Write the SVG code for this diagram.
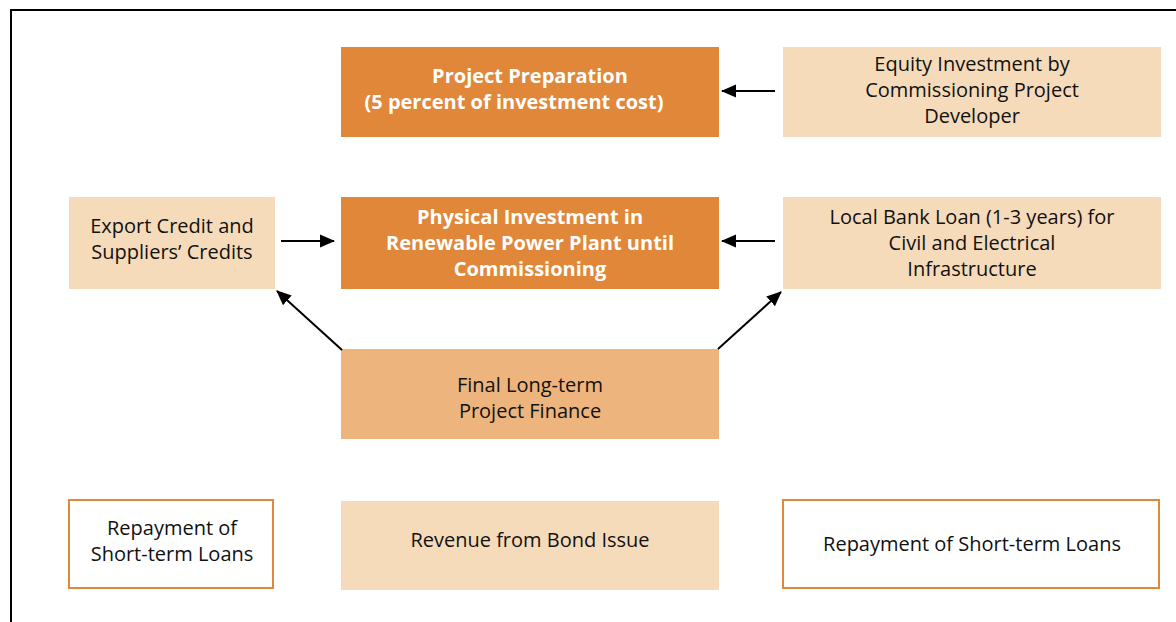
<svg xmlns="http://www.w3.org/2000/svg" width="1176" height="622" viewBox="0 0 1176 622">
<defs>
<style>
.t{font-family:"Open Sans","Liberation Sans",sans-serif;font-size:20px;fill:#111;text-anchor:middle}
.b{font-weight:bold;fill:#fff}
.dark{fill:#E0873A}
.light{fill:#F6DBBB}
.mid{fill:#EDB47E}
.out{fill:#fff;stroke:#E0873A;stroke-width:2}
.c{stroke:#000;stroke-width:2;fill:none;marker-end:url(#ah)}
</style>
<marker id="ah" markerWidth="15" markerHeight="14" refX="14" refY="7" orient="auto" markerUnits="userSpaceOnUse" viewBox="0 0 15 14">
<path d="M0,0.5 L15,7 L0,13.5 Z" fill="#000"/>
</marker>
</defs>
<rect width="1176" height="622" fill="#fff"/>
<rect x="11" y="10" width="1200" height="640" fill="none" stroke="#000" stroke-width="2"/>
<g id="prep"><rect class="dark" x="341" y="47" width="378" height="90"/>
<text class="t b" x="530" y="83">Project Preparation</text>
<text class="t b" x="514" y="109">(5 percent of investment cost)</text></g>
<g id="equity"><rect class="light" x="783" y="47" width="378" height="90"/>
<text class="t" x="972" y="71">Equity Investment by</text>
<text class="t" x="972" y="97">Commissioning Project</text>
<text class="t" x="972" y="123">Developer</text></g>
<g id="export"><rect class="light" x="69" y="197" width="206" height="92"/>
<text class="t" x="172" y="233">Export Credit and</text>
<text class="t" x="172" y="259">Suppliers’ Credits</text></g>
<g id="physical"><rect class="dark" x="341" y="197" width="378" height="92"/>
<text class="t b" x="530" y="224">Physical Investment in</text>
<text class="t b" x="530" y="250">Renewable Power Plant until</text>
<text class="t b" x="530" y="276">Commissioning</text></g>
<g id="local"><rect class="light" x="783" y="197" width="378" height="92"/>
<text class="t" x="972" y="224">Local Bank Loan (1-3 years) for</text>
<text class="t" x="972" y="250">Civil and Electrical</text>
<text class="t" x="972" y="276">Infrastructure</text></g>
<g id="final"><rect class="mid" x="341" y="349" width="378" height="90"/>
<text class="t" x="530" y="392">Final Long-term</text>
<text class="t" x="530" y="418">Project Finance</text></g>
<g id="repayL"><rect class="out" x="69" y="500" width="204" height="88"/>
<text class="t" x="172" y="535">Repayment of</text>
<text class="t" x="172" y="561">Short-term Loans</text></g>
<g id="revenue"><rect class="light" x="341" y="501" width="378" height="89"/>
<text class="t" x="530" y="547">Revenue from Bond Issue</text></g>
<g id="repayR"><rect class="out" x="783" y="500" width="376" height="88"/>
<text class="t" x="972" y="551">Repayment of Short-term Loans</text></g>
<g id="connectors">
<line class="c" x1="775" y1="91" x2="722" y2="91"/>
<line class="c" x1="281" y1="241" x2="334" y2="241"/>
<line class="c" x1="775" y1="241" x2="722" y2="241"/>
<line class="c" x1="342" y1="350" x2="277" y2="291"/>
<line class="c" x1="718" y1="349" x2="781" y2="292"/>
</g>
</svg>
